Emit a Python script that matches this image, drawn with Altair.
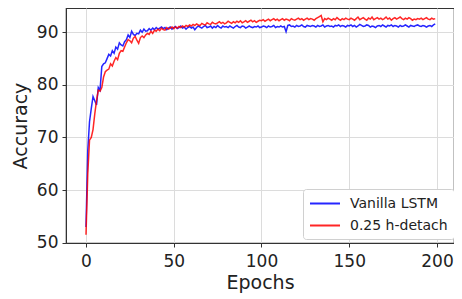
import altair as alt
import pandas as pd

epochs = list(range(200))

vanilla = [53.0, 67.5, 73.0, 75.5, 77.8, 77.0, 76.2, 79.5, 79.0, 83.5, 84.0, 84.2, 85.0, 85.8, 85.5, 86.5, 86.0, 87.2, 86.8, 88.0,
           87.6, 87.4, 88.2, 88.6, 89.5, 89.0, 90.2, 89.6, 89.4, 89.8, 89.7, 90.4, 90.0, 90.6, 90.2, 90.3, 90.7, 90.4, 90.8, 90.5,
           90.9, 90.6, 90.8, 91.0, 90.7, 90.9, 90.5, 90.8, 91.0, 90.6,
           90.9, 91.1, 90.7, 90.9, 91.2, 90.8, 91.0, 90.6, 90.9, 91.1, 90.8, 91.0, 90.5, 90.9, 91.2, 91.0, 90.8, 91.1, 91.3, 90.9,
           91.0, 91.2, 90.8, 91.1, 90.9, 91.3, 91.0, 90.8, 91.2, 91.0, 91.1, 90.9, 91.2, 91.0, 90.8, 91.1, 91.3, 91.0, 90.9, 91.2,
           91.1, 90.8, 91.0, 91.2, 91.0, 90.9, 91.1, 91.0, 91.2, 90.9,
           91.0, 91.2, 91.1, 90.9, 91.2, 91.0, 91.1, 91.3, 90.9, 91.1, 91.0, 91.2, 91.0, 91.1, 90.1, 91.3, 91.4, 91.1, 91.2, 91.0,
           91.3, 91.1, 91.2, 91.4, 91.1, 91.0, 91.3, 91.2, 91.1, 91.3, 91.2, 91.0, 91.3, 91.1, 91.2, 91.4, 91.0, 91.2, 91.3, 91.1,
           91.2, 91.0, 91.3, 91.2, 91.4, 91.1, 91.3, 91.2, 91.0, 91.3,
           91.2, 91.4, 91.1, 91.3, 91.0, 91.2, 91.5, 91.3, 91.1, 91.2, 91.4, 91.3, 91.0, 91.2, 91.1, 90.9, 91.2, 91.3, 91.1, 91.4,
           91.2, 91.0, 91.3, 91.2, 91.4, 91.1, 91.3, 91.2, 91.0, 91.3, 91.1, 91.2, 91.4, 91.2, 91.0, 91.3, 91.2, 91.1, 91.3, 91.4,
           91.2, 91.1, 91.3, 91.2, 91.0, 91.2, 91.3, 91.1, 91.4, 91.6]

hdetach = [51.5, 63.0, 69.5, 70.0, 71.5, 74.5, 77.0, 79.0, 78.8, 79.5, 81.5, 82.5, 82.8, 83.0, 84.0, 83.6, 84.5, 85.2, 84.8, 86.0,
           86.5, 86.4, 87.2, 88.0, 88.6, 88.4, 88.0, 88.9, 89.2, 88.5, 87.9, 89.0, 89.3, 89.0, 89.5, 89.8, 89.6, 90.2, 89.8, 90.4,
           90.2, 90.6, 90.3, 90.8, 90.5, 90.4, 90.9, 90.6, 90.8, 91.0,
           90.7, 91.0, 90.8, 91.1, 90.9, 91.2, 91.0, 91.3, 91.1, 91.4, 91.2, 91.5, 91.3, 91.6, 91.4, 91.3, 91.7, 91.5, 91.4, 91.8,
           91.6, 91.5, 91.9, 91.7, 91.6, 91.8, 92.0, 91.7, 91.9, 91.6, 91.8, 92.1, 91.9, 91.7, 92.0, 91.8, 92.1, 91.9, 92.2, 91.8,
           92.0, 92.2, 91.9, 92.1, 92.3, 92.0, 92.2, 91.9, 92.1, 92.3,
           92.2, 92.4, 92.1, 92.3, 92.5, 92.2, 92.4, 92.6, 92.3, 92.5, 92.2, 92.4, 92.6, 92.3, 92.5, 92.4, 92.2, 92.6, 92.4, 92.3,
           92.5, 92.7, 92.4, 92.6, 92.3, 92.5, 92.7, 92.4, 92.6, 92.5, 92.3, 92.6, 92.8, 93.0, 93.2, 92.0, 92.6, 92.4, 92.7, 92.5,
           92.3, 92.6, 92.4, 92.8, 92.5, 92.3, 92.6, 92.4, 92.7, 92.5,
           92.4, 92.7, 92.5, 92.3, 92.6, 92.9, 92.4, 92.6, 92.8, 92.5, 92.3, 92.7, 92.5, 92.9, 92.4, 92.6, 92.8, 92.5, 92.7, 92.4,
           92.6, 92.9, 92.5, 92.7, 92.3, 92.6, 92.8, 92.5, 92.7, 92.9, 92.6, 92.4, 92.7, 92.5, 92.8, 92.6, 92.3, 92.5, 92.4, 92.6,
           92.5, 92.7, 92.4, 92.6, 92.8, 92.5, 92.4, 92.7, 92.5, 92.6]

series_names = ["Vanilla LSTM", "0.25 h-detach"]
series_colors = ["#0000ff", "#ff0000"]
x_ticks = [0, 50, 100, 150, 200]
y_ticks = [50, 60, 70, 80, 90]

rows = []
for i, e in enumerate(epochs):
    rows.append({"Epoch": e, "Accuracy": vanilla[i], "Model": series_names[0], "ord": 0})
for i, e in enumerate(epochs):
    rows.append({"Epoch": e, "Accuracy": hdetach[i], "Model": series_names[1], "ord": 1})
df = pd.DataFrame(rows)

font = "DejaVu Sans"

chart = alt.Chart(df).mark_line(strokeWidth=1.5, opacity=0.85, clip=True).encode(
    x=alt.X("Epoch:Q", scale=alt.Scale(domain=[-11.4, 209.7], nice=False, zero=False),
            axis=alt.Axis(values=x_ticks, title="Epochs", format="d")),
    y=alt.Y("Accuracy:Q", scale=alt.Scale(domain=[49.94, 94.62], nice=False, zero=False),
            axis=alt.Axis(values=y_ticks, title="Accuracy", format="d")),
    color=alt.Color("Model:N", scale=alt.Scale(domain=series_names, range=series_colors),
                    legend=alt.Legend(title=None, orient="none", legendX=237, legendY=181,
                                      fillColor="white", strokeColor="#d0d0d0", cornerRadius=3,
                                      padding=6, symbolType="M-1,0H3", symbolSize=225,
                                      symbolStrokeWidth=2, labelFontSize=14, labelFont=font,
                                      labelColor="#222", rowPadding=6, labelOffset=24)),
    detail="ord:O",
    order="ord:O",
).properties(
    width=388, height=235,
    autosize=alt.AutoSizeParams(type="none"),
    padding={"left": 58, "top": 0, "right": 0, "bottom": 52},
).configure_view(
    stroke="#333", strokeWidth=1.2
).configure_axis(
    labelFont=font, titleFont=font, labelFontSize=17, titleFontSize=19,
    titleFontWeight="normal", labelColor="#222", titleColor="#222",
    grid=True, gridColor="#dcdcdc", gridWidth=1,
    domainColor="#333", tickColor="#333", tickSize=4, labelPadding=6,
).configure_axisY(titlePadding=6, labelPadding=4).configure_axisX(titlePadding=4)

chart.save("out.html", embed_options={"renderer": "svg", "actions": False})
